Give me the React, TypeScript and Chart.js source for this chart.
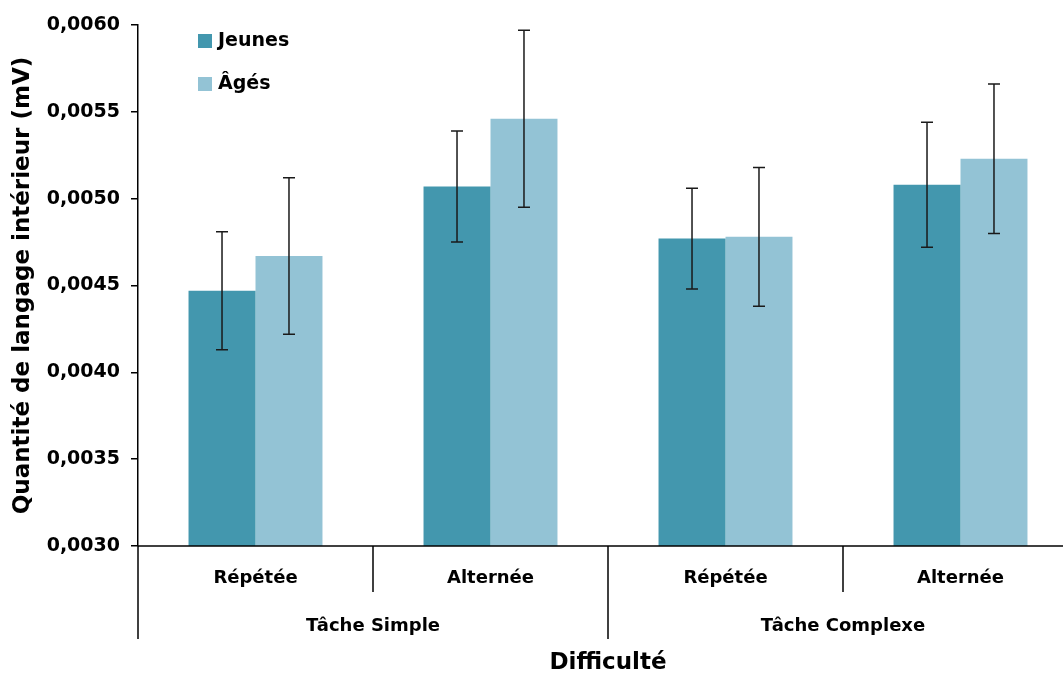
import React, { useEffect, useRef } from "react";
import { Chart, registerables } from "chart.js";

Chart.register(...registerables);

const subCategories = ["Répétée", "Alternée", "Répétée", "Alternée"];
const groups = ["Tâche Simple", "Tâche Complexe"];
const seriesNames = ["Jeunes", "Âgés"];
const jeunes = [0.00447, 0.00507, 0.00477, 0.00508];
const ages = [0.00467, 0.00546, 0.00478, 0.00523];
const jeunesErr = [0.00034, 0.00032, 0.00029, 0.00036];
const agesErr = [0.00045, 0.00051, 0.00040, 0.00043];
const yTicks = [0.003, 0.0035, 0.004, 0.0045, 0.005, 0.0055, 0.006];
const xTitle = "Difficulté";
const yTitle = "Quantité de langage intérieur (mV)";

const colors = ["#4397AE", "#93C3D5"];
const FONT = "'DejaVu Sans', sans-serif";

const errPlugin = {
  id: "errAndAxis",
  afterDatasetsDraw(chart: any) {
    const ctx = chart.ctx;
    const y = chart.scales.y;
    const errs = [jeunesErr, agesErr];
    ctx.save();
    ctx.strokeStyle = "#1a1a1a";
    ctx.lineWidth = 1.5;
    chart.data.datasets.forEach((ds: any, di: number) => {
      const meta = chart.getDatasetMeta(di);
      meta.data.forEach((bar: any, i: number) => {
        const v = ds.data[i];
        const e = errs[di][i];
        const yt = y.getPixelForValue(v + e);
        const yb = y.getPixelForValue(v - e);
        const x = bar.x;
        ctx.beginPath();
        ctx.moveTo(x, yt);
        ctx.lineTo(x, yb);
        ctx.moveTo(x - 6, yt);
        ctx.lineTo(x + 6, yt);
        ctx.moveTo(x - 6, yb);
        ctx.lineTo(x + 6, yb);
        ctx.stroke();
      });
    });
    ctx.restore();
  },
  afterDraw(chart: any) {
    const ctx = chart.ctx;
    const area = chart.chartArea;
    const n = subCategories.length;
    const w = (area.right - area.left) / n;
    const bottom = area.bottom;
    ctx.save();
    ctx.strokeStyle = "#000";
    ctx.lineWidth = 1.5;
    // x axis line
    ctx.beginPath();
    ctx.moveTo(area.left, bottom);
    ctx.lineTo(area.right, bottom);
    ctx.stroke();
    // separators
    for (let i = 0; i < n; i++) {
      const x = area.left + i * w;
      const long = i % 2 === 0;
      ctx.beginPath();
      ctx.moveTo(x, bottom);
      ctx.lineTo(x, long ? bottom + 93 : bottom + 46);
      ctx.stroke();
    }
    ctx.fillStyle = "#000";
    ctx.textAlign = "center";
    ctx.textBaseline = "middle";
    ctx.font = `bold 18px ${FONT}`;
    subCategories.forEach((lab, i) => {
      ctx.fillText(lab, area.left + (i + 0.5) * w, bottom + 32);
    });
    groups.forEach((lab, i) => {
      ctx.fillText(lab, area.left + (i * 2 + 1) * w, bottom + 80);
    });
    ctx.font = `bold 23px ${FONT}`;
    ctx.fillText(xTitle, (area.left + area.right) / 2, bottom + 117);
    // y title
    ctx.save();
    ctx.translate(23, (area.top + area.bottom) / 2);
    ctx.rotate(-Math.PI / 2);
    ctx.font = `bold 23px ${FONT}`;
    ctx.fillText(yTitle, 0, 0);
    ctx.restore();
    // legend
    ctx.textAlign = "left";
    ctx.font = `bold 19px ${FONT}`;
    seriesNames.forEach((name, i) => {
      const cy = 41 + i * 43;
      ctx.fillStyle = colors[i];
      ctx.fillRect(198, cy - 7, 14, 14);
      ctx.fillStyle = "#000";
      ctx.fillText(name, 218, cy);
    });
    ctx.restore();
  },
};

export default function App() {
  const ref = useRef<HTMLCanvasElement>(null);
  useEffect(() => {
    if (!ref.current) return;
    const chart = new Chart(ref.current, {
      type: "bar",
      data: {
        labels: subCategories,
        datasets: [
          { label: seriesNames[0], data: jeunes, backgroundColor: colors[0] },
          { label: seriesNames[1], data: ages, backgroundColor: colors[1] },
        ],
      },
      options: {
        animation: false,
        responsive: false,
        layout: { padding: { top: 25, bottom: 129, left: 0, right: 2 } },
        datasets: { bar: { categoryPercentage: 0.57, barPercentage: 1 } } as any,
        plugins: { legend: { display: false }, tooltip: { enabled: false } },
        scales: {
          x: { display: false },
          y: {
            min: 0.003,
            max: 0.006,
            afterFit: (s: any) => {
              s.width = 138;
            },
            afterBuildTicks: (s: any) => {
              s.ticks = yTicks.map((v) => ({ value: v }));
            },
            grid: { drawOnChartArea: false, tickLength: 7, color: "#000", lineWidth: 1.5 },
            border: { color: "#000", width: 1.5 },
            ticks: {
              color: "#000",
              padding: 11,
              font: { family: FONT, size: 19, weight: "bold" },
              callback: (v: any) => Number(v).toFixed(4).replace(".", ","),
            },
            title: { display: false },
          },
        },
      },
      plugins: [errPlugin],
    });
    return () => chart.destroy();
  }, []);
  return (
    <div style={{ position: "fixed", left: 0, top: 0, width: 1063, height: 675, overflow: "hidden", background: "#fff" }}>
      <canvas ref={ref} width={1080} height={675} style={{ display: "block" }} />
    </div>
  );
}
